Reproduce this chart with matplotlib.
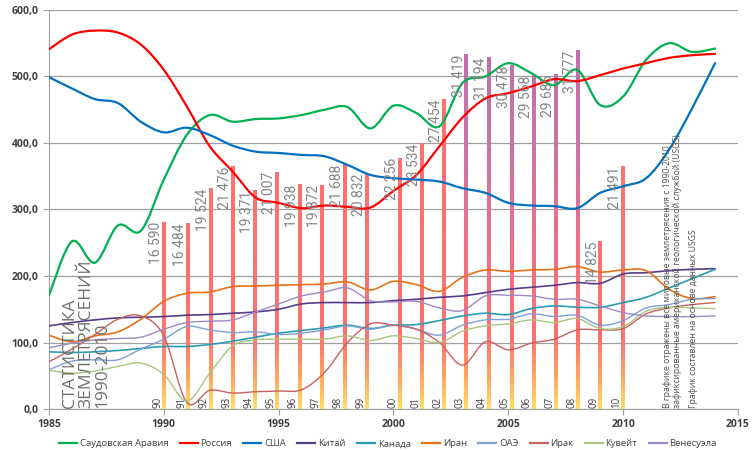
import numpy as np
import matplotlib
matplotlib.use('Agg')
import matplotlib.pyplot as plt
from matplotlib.path import Path
from matplotlib.patches import PathPatch
from matplotlib.lines import Line2D
from matplotlib.colors import LinearSegmentedColormap, Normalize
from matplotlib.ticker import FuncFormatter, MultipleLocator

# yearly values 1985..2014
years = list(range(1985, 2015))
saudi = [171, 252, 220, 276, 268, 345, 412, 442, 432, 436, 437, 442, 450, 454, 422,
         456, 445, 425, 490, 500, 520, 505, 487, 510, 457, 470, 525, 550, 537, 542]
russia = [541, 563, 569, 566, 548, 510, 455, 395, 357, 318, 310, 302, 306, 304, 303,
          328, 352, 395, 438, 467, 475, 485, 496, 493, 502, 512, 520, 528, 532, 534]
usa = [499, 482, 466, 460, 432, 416, 423, 412, 396, 387, 385, 382, 380, 367, 352,
       347, 345, 342, 332, 325, 310, 306, 305, 302, 325, 335, 347, 390, 452, 520]
china = [125, 130, 134, 137, 138, 139, 141, 142, 144, 146, 150, 158, 160, 160, 160,
         163, 165, 168, 170, 175, 180, 183, 186, 190, 189, 203, 205, 208, 210, 211]
canada = [86, 85, 86, 88, 91, 94, 94, 97, 102, 108, 114, 118, 122, 126, 121,
          126, 127, 133, 140, 144, 142, 151, 155, 153, 153, 160, 168, 182, 196, 210]
iran = [111, 101, 110, 116, 135, 162, 174, 176, 184, 185, 186, 187, 188, 191, 179,
        192, 187, 177, 198, 209, 207, 209, 210, 214, 206, 209, 208, 180, 166, 169]
uae = [59, 72, 74, 74, 90, 105, 124, 119, 115, 116, 112, 114, 119, 125, 120,
       126, 120, 111, 126, 134, 135, 143, 139, 141, 126, 133, 152, 157, 165, 166]
iraq = [71, 90, 112, 135, 140, 110, 10, 28, 24, 26, 27, 29, 55, 100, 128,
        126, 120, 100, 66, 101, 89, 99, 105, 119, 119, 121, 143, 152, 157, 160]
kuwait = [58, 54, 57, 64, 69, 52, 12, 54, 95, 104, 105, 105, 105, 110, 103,
          110, 106, 100, 117, 125, 128, 134, 130, 136, 121, 124, 147, 153, 152, 151]
venezuela = [92, 99, 104, 106, 108, 120, 130, 132, 134, 146, 158, 170, 176, 182, 163,
             161, 162, 152, 148, 170, 171, 170, 165, 165, 155, 145, 140, 139, 139, 140]

names = ['Саудовская Аравия', 'Россия', 'США', 'Китай', 'Канада',
         'Иран', 'ОАЭ', 'Ирак', 'Кувейт', 'Венесуэла']
series = [saudi, russia, usa, china, canada, iran, uae, iraq, kuwait, venezuela]
colors = ['#00B050', '#FF0000', '#0070C0', '#553C8B', '#2A9CAE',
          '#E8711A', '#7DA0D8', '#C8605E', '#A9C47F', '#9E88C6']
widths = [1.6, 1.6, 1.6, 1.2, 1.2, 1.2, 1.0, 1.0, 1.0, 1.0]

# earthquakes per year (USGS), bars scaled onto the same axis
quake_x = [1990.0, 1991.05, 1992.03, 1993.0, 1993.96, 1994.93, 1995.91, 1996.88, 1997.87, 1998.84,
           2000.26, 2001.23, 2002.2, 2003.17, 2004.14, 2005.14, 2006.09, 2007.07, 2008.04, 2009.0, 2010.0]
quake_labels = ['90', '91', '92', '93', '94', '95', '96', '97', '98', '99',
                '00', '01', '02', '03', '04', '05', '06', '07', '08', '09', '10']
quakes = [16590, 16484, 19524, 21476, 19371, 21007, 19938, 19872, 21688, 20832,
          22256, 23534, 27454, 31419, 31194, 30478, 29568, 29685, 31777, 14825, 21491]
quake_scale = 59.0


def smooth_path(xs, ys):
    # excel-like smoothed line, cubic bezier segments through the points
    pts = np.column_stack([xs, ys]).astype(float)
    n = len(pts)
    verts = [pts[0]]
    codes = [Path.MOVETO]
    for i in range(n - 1):
        p0 = pts[i - 1] if i > 0 else pts[i]
        p1 = pts[i]
        p2 = pts[i + 1]
        p3 = pts[i + 2] if i + 2 < n else pts[i + 1]
        verts += [p1 + (p2 - p0) / 6, p2 - (p3 - p1) / 6, p2]
        codes += [Path.CURVE4] * 3
    return Path(verts, codes)


plt.rcParams['font.family'] = ['Open Sans', 'DejaVu Sans']

fig = plt.figure(figsize=(7.56, 4.5), dpi=100)
ax = fig.add_axes([0.0648, 0.0911, 0.9114, 0.8867])

red_cmap = LinearSegmentedColormap.from_list('r', [(0, '#FFDD66'), (0.08, '#FFA862'), (0.2, '#FF7070'), (1, '#FF7070')])
purple_cmap = LinearSegmentedColormap.from_list('p', [(0, '#FFDD66'), (0.08, '#FFA862'), (0.2, '#FF7070'),
                                                      (0.45, '#EE7086'), (0.75, '#C774A8'), (1, '#C070A8')])
norm = Normalize(0, 540)
bw = 0.16
for x, c, lab in zip(quake_x, quakes, quake_labels):
    h = c / quake_scale
    grad = np.linspace(0, h, 200).reshape(-1, 1)
    cmap = purple_cmap if c > 29000 else red_cmap
    ax.imshow(grad, extent=(x - bw / 2, x + bw / 2, 0, h), origin='lower', aspect='auto',
              cmap=cmap, norm=norm, zorder=2, interpolation='bilinear')
    txt = f'{c:,}'.replace(',', ' ')
    ax.text(x - 0.03, h, txt, rotation=90, ha='right', va='top', fontsize=10,
            family=['Roboto', 'DejaVu Sans'], color='#858585', zorder=4)
    ax.text(x - 0.03, 2, lab, rotation=90, ha='right', va='bottom', fontsize=7,
            color='#404040', zorder=4)

for ys, col, lw in zip(series, colors, widths):
    ax.add_patch(PathPatch(smooth_path(years, ys), fill=False, edgecolor=col, lw=lw,
                           zorder=3, capstyle='round', joinstyle='round'))

ax.set_xlim(1985, 2015)
ax.set_ylim(0, 600)
ax.xaxis.set_major_locator(MultipleLocator(5))
ax.yaxis.set_major_locator(MultipleLocator(100))
ax.yaxis.set_major_formatter(FuncFormatter(lambda v, p: f'{v:.1f}'.replace('.', ',')))
ax.grid(axis='y', color='#A0A0A0', lw=0.9)
ax.set_axisbelow(True)
for s in ['top', 'right']:
    ax.spines[s].set_visible(False)
for s in ['left', 'bottom']:
    ax.spines[s].set_color('#A0A0A0')
ax.tick_params(axis='both', colors='#A0A0A0', labelcolor='#404040', labelsize=7.5, length=4)
for t in ax.get_xticklabels() + ax.get_yticklabels():
    t.set_fontweight('bold')

ax.text(1985.57, 1.5, 'СТАТИСТИКА\nЗЕМЛЕТРЯСЕНИЙ\n1990-2010', rotation=90, ha='left', va='bottom',
        fontsize=12.5, color='#707070', linespacing=1.0, multialignment='left', zorder=4)

ax.text(2011.75, 1.5, 'В графике отражены все мировые землетрясения с 1990-2010\n'
        'зафиксированные американской геологической службой (USGS)',
        rotation=90, ha='left', va='bottom', fontsize=6.2, color='#505050', linespacing=1.0, zorder=4)
ax.text(2012.85, 1.5, 'График составлен на основе данных USGS', rotation=90, ha='left', va='bottom',
        fontsize=6.2, color='#505050', zorder=4)

handles = [Line2D([], [], color=c, lw=1.6) for c in colors]
fig.legend(handles, names, loc='lower center', bbox_to_anchor=(0.513, -0.015), ncol=10, frameon=False,
           fontsize=6.8, handlelength=1.9, handletextpad=0.3, columnspacing=1.2, labelcolor='#404040')

fig.savefig('out.png', dpi=100)
